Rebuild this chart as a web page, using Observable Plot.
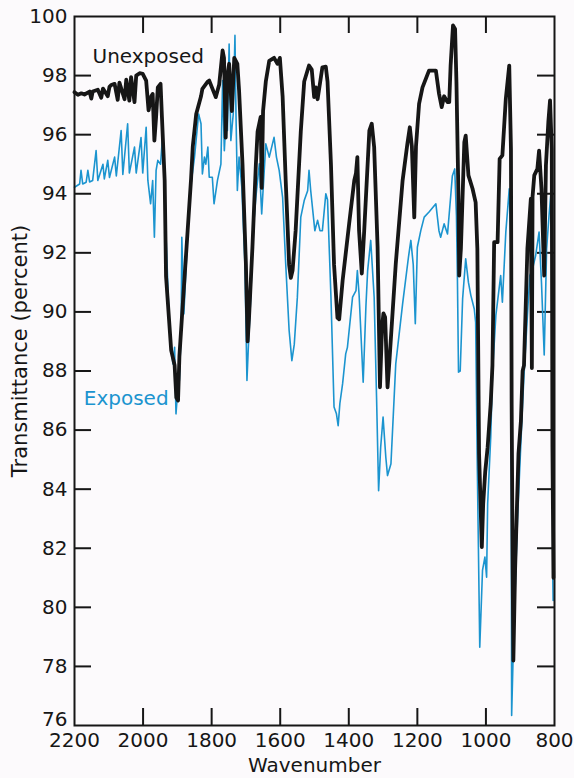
<!DOCTYPE html>
<html><head><meta charset="utf-8">
<script src="https://cdn.jsdelivr.net/npm/d3@7"></script>
<script src="https://cdn.jsdelivr.net/npm/@observablehq/plot@0.6"></script>
<style>html,body{margin:0;padding:0;background:#fcfafc;}</style>
</head><body><div id="chart"></div>
<script>
const xTicks = [2200, 2000, 1800, 1600, 1400, 1200, 1000, 800];
const yTicks = [78, 80, 82, 84, 86, 88, 90, 92, 94, 96, 98, 100];
const yBottomTick = [76];
const xInnerTicks = [2000, 1800, 1600, 1400, 1200, 1000];
const yInnerTicks = [78, 80, 82, 84, 86, 88, 90, 92, 94, 96, 98];

const unexposedWn = [2200,2190,2180,2171,2156,2151,2147,2132,2122,2117,2103,2098,2093,2083,2074,2069,2054,2049,2040,2035,2025,2020,2010,2001,1991,1984,1976,1972,1967,1962,1957,1949,1945,1937,1933,1918,1908,1903,1898,1894,1884,1870,1860,1855,1845,1831,1827,1811,1807,1788,1778,1768,1764,1759,1754,1749,1741,1734,1725,1720,1710,1700,1695,1691,1681,1671,1666,1657,1654,1650,1642,1632,1618,1608,1601,1593,1584,1574,1569,1564,1555,1540,1530,1516,1508,1501,1496,1491,1477,1467,1462,1452,1443,1433,1428,1418,1399,1384,1379,1375,1370,1362,1355,1340,1333,1326,1316,1309,1303,1299,1294,1287,1282,1263,1243,1229,1222,1216,1209,1204,1195,1185,1166,1146,1137,1129,1122,1112,1107,1103,1096,1090,1086,1080,1078,1073,1063,1059,1051,1039,1030,1025,1020,1012,1008,1002,995,986,981,976,966,960,952,942,932,927,925,922,920,915,905,898,893,889,879,869,866,864,859,850,845,838,830,825,818,813,808,806,803];
const unexposedT = [97.44,97.35,97.40,97.36,97.46,97.22,97.46,97.52,97.25,97.56,97.30,97.62,97.68,97.72,97.18,97.76,97.20,97.86,97.15,97.95,97.10,98.00,98.08,98.06,97.83,96.82,97.30,97.38,95.80,96.60,97.60,97.72,96.60,94.45,91.20,88.70,88.20,87.10,87.00,88.50,90.30,92.75,94.50,95.60,96.70,97.30,97.55,97.80,97.83,97.27,97.70,98.85,98.60,95.90,98.00,98.40,96.80,98.60,98.40,97.50,95.00,91.60,89.00,89.80,92.20,95.00,96.10,96.60,94.20,96.80,97.80,98.50,98.60,98.40,98.60,97.30,94.45,91.60,91.15,91.40,92.75,96.10,97.80,98.34,98.20,97.27,97.60,97.20,98.28,98.30,97.80,95.00,91.60,89.80,89.75,91.06,92.98,94.45,94.70,95.24,92.75,91.30,92.75,96.14,96.37,95.58,92.20,87.45,89.50,89.95,89.82,87.45,88.25,91.63,94.45,95.70,96.25,95.60,93.20,95.60,97.04,97.60,98.17,98.17,97.40,96.93,97.30,97.10,97.10,98.34,99.70,99.58,97.78,93.83,91.23,92.14,95.75,95.97,94.62,94.17,93.71,92.14,85.20,82.04,83.50,84.60,85.42,86.90,88.19,92.36,92.36,95.18,95.30,97.21,98.34,95.52,86.90,81.25,78.20,81.25,85.20,86.30,88.00,88.19,92.14,93.83,88.10,93.90,94.62,94.84,95.46,94.17,91.23,94.96,96.42,97.16,95.52,85.42,81.00];

const exposedWn = [2200,2185,2181,2176,2166,2161,2156,2147,2137,2132,2117,2113,2103,2098,2083,2078,2064,2059,2045,2040,2025,2020,2006,2001,1991,1986,1978,1972,1967,1962,1957,1949,1942,1938,1930,1923,1913,1908,1904,1899,1894,1889,1887,1881,1874,1865,1860,1850,1838,1831,1827,1821,1817,1811,1807,1798,1793,1783,1773,1768,1763,1759,1754,1749,1744,1737,1732,1729,1725,1720,1712,1703,1697,1693,1686,1679,1671,1661,1654,1642,1632,1618,1611,1603,1593,1584,1574,1566,1559,1550,1540,1530,1520,1516,1511,1499,1491,1484,1477,1467,1462,1452,1443,1436,1431,1426,1418,1409,1404,1389,1379,1375,1370,1365,1358,1350,1345,1336,1326,1319,1313,1307,1300,1292,1287,1277,1263,1243,1226,1219,1212,1206,1200,1190,1180,1166,1146,1137,1132,1122,1112,1103,1098,1091,1086,1083,1080,1075,1068,1059,1051,1044,1034,1030,1025,1018,1010,1003,998,995,986,981,971,957,952,942,932,927,925,921,913,908,893,889,879,872,864,855,845,838,830,823,816,811,806,805,804];
const exposedT = [94.22,94.33,94.79,94.33,94.39,94.79,94.40,94.45,95.46,94.45,95.00,94.50,95.13,94.55,95.24,94.60,96.14,94.65,96.37,94.70,95.58,94.70,95.90,94.70,96.25,94.45,93.66,94.45,92.53,94.79,95.13,95.00,96.14,94.11,91.63,89.37,88.24,88.80,86.55,87.34,87.70,89.37,92.53,89.93,91.63,93.88,94.34,95.24,96.70,96.37,94.67,95.24,95.00,95.58,94.56,94.56,93.66,94.45,95.00,97.83,95.46,96.37,96.14,99.07,95.80,96.70,99.36,96.70,94.11,95.24,94.22,91.63,87.68,88.80,90.50,92.75,93.88,95.01,93.32,95.69,95.24,95.91,95.24,94.79,93.88,91.63,89.37,88.35,88.90,90.50,93.21,93.77,94.10,94.79,94.10,92.75,93.10,92.75,92.75,94.00,93.80,90.50,86.78,86.55,86.15,86.90,87.57,88.58,88.80,90.50,90.72,91.40,90.60,89.37,87.62,90.20,91.40,92.42,90.50,87.11,83.95,85.42,86.44,85.08,84.46,84.86,88.24,90.27,91.85,92.42,91.60,89.60,92.19,92.75,93.21,93.38,93.66,92.75,92.53,92.98,92.64,93.88,94.60,94.84,93.26,91.00,87.96,88.00,90.44,91.80,91.00,90.56,90.10,89.65,84.63,78.65,81.25,81.70,81.02,83.50,85.76,87.90,89.88,91.23,90.33,92.70,94.17,92.14,76.34,78.20,81.25,82.94,86.90,87.85,89.88,91.23,91.46,91.91,92.70,91.00,88.54,92.13,93.26,93.94,91.00,81.02,80.23];

const seriesLabels = ["Unexposed", "Exposed"];
const labelWn = [2147.5, 2173];
const labelT = [98.65, 87.07];
const inkColor = "#161616";
const blueColor = "#1b94cf";
const labelColors = [inkColor, blueColor];

const unexposed = unexposedWn.map((wn, i) => ({wn, t: unexposedT[i]}));
const exposed = exposedWn.map((wn, i) => ({wn, t: exposedT[i]}));
const labels = seriesLabels.map((text, i) => ({text, wn: labelWn[i], t: labelT[i], color: labelColors[i]}));

const W = 574, H = 778, mL = 74, mR = 20, mT = 16, mB = 53;
const innerW = W - mL - mR, innerH = H - mT - mB;
const tickLen = 17;

const chart = Plot.plot({
  width: W, height: H,
  marginLeft: mL, marginRight: mR, marginTop: mT, marginBottom: mB,
  style: {background: "#fcfafc", fontFamily: "'DejaVu Sans', sans-serif", fontSize: "20px", color: inkColor},
  x: {domain: [2200, 800]},
  y: {domain: [76, 100]},
  marks: [
    Plot.tickY(yInnerTicks, {y: d => d, stroke: inkColor, strokeWidth: 2, insetRight: innerW - tickLen}),
    Plot.tickY(yInnerTicks, {y: d => d, stroke: inkColor, strokeWidth: 2, insetLeft: innerW - tickLen}),
    Plot.tickX(xInnerTicks, {x: d => d, stroke: inkColor, strokeWidth: 2, insetTop: innerH - tickLen}),
    Plot.tickX(xInnerTicks, {x: d => d, stroke: inkColor, strokeWidth: 2, insetBottom: innerH - tickLen}),
    Plot.axisX({ticks: xTicks, tickSize: 0, tickPadding: 7, tickFormat: d => String(d), label: null}),
    Plot.axisY({ticks: yTicks, tickSize: 0, tickPadding: 7, tickFormat: d => String(d), label: null}),
    Plot.axisY({ticks: yBottomTick, tickSize: 0, tickPadding: 7, dy: -6, tickFormat: d => String(d), label: null}),
    Plot.line(exposed, {x: "wn", y: "t", stroke: blueColor, strokeWidth: 1.6, strokeLinejoin: "round"}),
    Plot.line(unexposed, {x: "wn", y: "t", stroke: inkColor, strokeWidth: 3.8, strokeLinejoin: "round"}),
    Plot.frame({stroke: inkColor, strokeWidth: 2}),
    Plot.text(labels, {x: "wn", y: "t", text: "text", fill: "color", textAnchor: "start", lineAnchor: "middle", fontSize: 20}),
    Plot.text(["Wavenumber"], {text: d => d, frameAnchor: "bottom", dy: 32, lineAnchor: "top", fill: inkColor}),
    Plot.text(["Transmittance (percent)"], {text: d => d, frameAnchor: "left", textAnchor: "middle", rotate: -90, dx: -62, dy: -20, lineAnchor: "top", fontSize: 21, fill: inkColor})
  ]
});
document.getElementById("chart").appendChild(chart);
</script>
</body></html>
